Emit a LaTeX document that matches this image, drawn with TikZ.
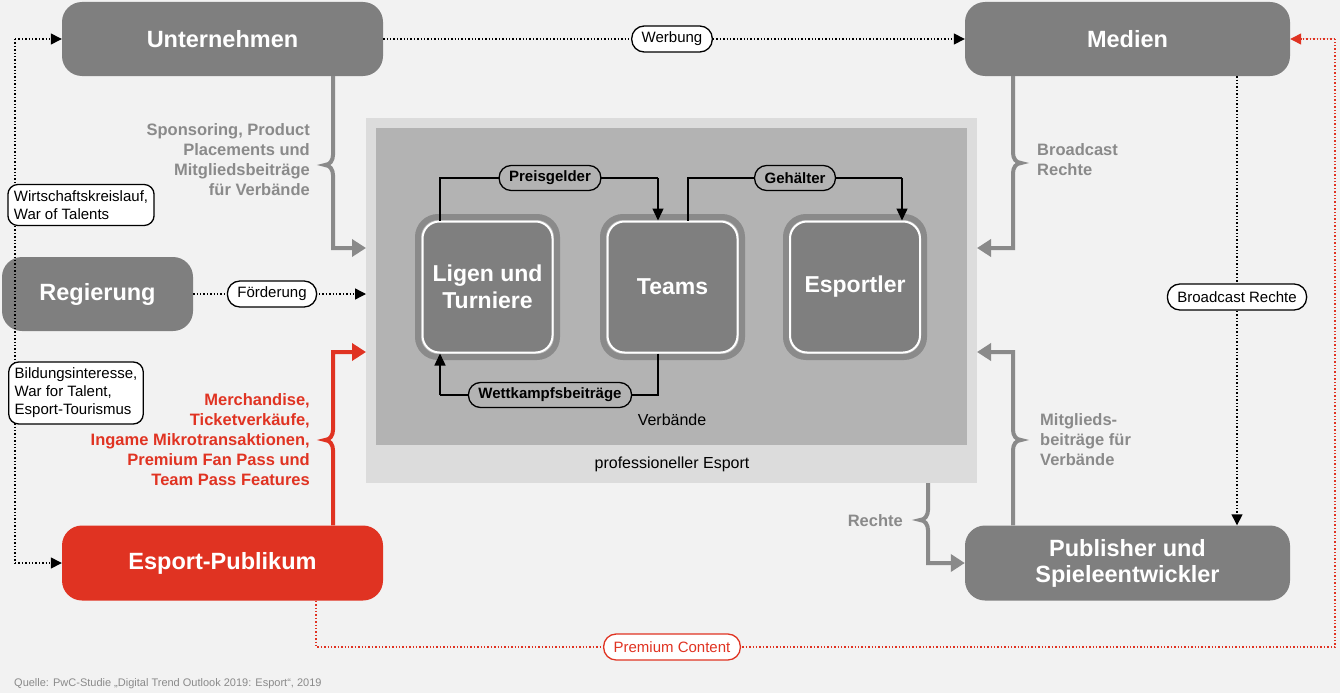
\documentclass[tikz,border=0pt]{standalone}
\usepackage{fontspec}
\setmainfont{Liberation Sans}
\usetikzlibrary{arrows.meta,positioning}
\definecolor{bg}{HTML}{F2F2F2}
\definecolor{boxgray}{HTML}{7F7F7F}
\definecolor{txtgray}{HTML}{8A8A8A}
\definecolor{pwcred}{HTML}{E03322}
\definecolor{outerbg}{HTML}{DCDCDC}
\definecolor{innerbg}{HTML}{B3B3B3}
\tikzset{
  actor/.style={rounded corners=20pt, fill=boxgray, text=white, font=\bfseries\fontsize{23.5}{26}\selectfont, align=center, inner sep=0pt},
  kern/.style={rounded corners=17pt, fill=boxgray, draw=white, line width=2pt,
    text=white, font=\bfseries\fontsize{23}{27}\selectfont, align=center, minimum width=130pt, minimum height=131pt, inner sep=0pt},
  pill/.style={rounded corners=12.5pt, draw=black, line width=1.3pt, fill=white, font=\fontsize{15}{18}\selectfont, inner xsep=10pt, minimum height=26pt},
  note/.style={rounded corners=10pt, draw=black, line width=1.3pt, fill=white, font=\fontsize{15}{18}\selectfont, align=left, inner sep=6pt},
  money/.style={rounded corners=12pt, draw=black, line width=1.3pt, fill=innerbg, font=\bfseries\fontsize{15}{18}\selectfont, inner xsep=10pt, minimum height=25pt},
  flow/.style={line width=4pt, draw=txtgray, -{Triangle[width=17pt,length=14pt]}},
  redflow/.style={flow, draw=pwcred},
  dots/.style={line width=1.4pt, dotted, -{Triangle[width=11pt,length=11pt]}},
  plain/.style={line width=1.4pt, -{Triangle[width=11pt,length=12pt]}},
  graytxt/.style={text=txtgray, font=\bfseries\fontsize{16.5}{20}\selectfont, inner sep=0pt}
}
\begin{document}
\begin{tikzpicture}[x=1pt,y=-1pt]
\fill[bg] (0,0) rectangle (1340,693);
\useasboundingbox (0,0) rectangle (1340,693);

% Bereiche
\fill[outerbg] (366,118) rectangle (977,483);
\fill[innerbg] (376,128) rectangle (967,445);
\node at (672,420) {\fontsize{16}{18}\selectfont Verbände};
\node at (672,464) {\fontsize{16}{18}\selectfont professioneller Esport};

% Akteure
\node[actor, minimum width=321pt, minimum height=74pt] (unt) at (222.5,39) {Unternehmen};
\node[actor, minimum width=325pt, minimum height=74pt] (med) at (1127.5,39) {Medien};
\node[actor, minimum width=191pt, minimum height=74pt] (reg) at (97.5,294) {Regierung};
\node[actor, fill=pwcred, minimum width=321pt, minimum height=75pt] (pub) at (222.5,563) {Esport-Publikum};
\node[actor, minimum width=325pt, minimum height=75pt] (dev) at (1127.5,563) {Publisher und\\Spieleentwickler};

% Kern
\draw[txtgray, line width=6pt, rounded corners=20pt] (418,217) rectangle (557,357);
\draw[txtgray, line width=6pt, rounded corners=20pt] (603,217) rectangle (742,357);
\draw[txtgray, line width=6pt, rounded corners=20pt] (786,217) rectangle (924,357);
\node[kern] (lig) at (487.5,287) {Ligen und\\Turniere};
\node[kern] (tea) at (672.5,287) {Teams};
\node[kern] (esp) at (855,287) {Esportler};

\coordinate (p1) at (440,178);
\coordinate (p2) at (658,178);
\coordinate (g1) at (688,178);
\coordinate (g2) at (902,178);
\coordinate (w1) at (658,395);
\coordinate (w2) at (440,395);
\draw[plain, -] (lig.north -| p1) -- (p1) -- (p2);
\draw[plain] (p2) -- (tea.north -| p2);
\draw[plain, -] (tea.north -| g1) -- (g1) -- (g2);
\draw[plain] (g2) -- (esp.north -| g2);
\draw[plain, -] (tea.south -| w1) -- (w1) -- (w2);
\draw[plain] (w2) -- (lig.south -| w2);
\node[money] (prg) at (550,178) {Preisgelder};
\node[money] (geh) at (795,178) {Gehälter};
\node[money] (wet) at (550,395) {Wettkampfsbeiträge};

% Geldflüsse
\coordinate (ein) at (366,248);
\coordinate (red) at (366,352);
\coordinate (aus) at (977,248);
\coordinate (mit) at (977,352);
\draw[flow] (unt.south -| 333,0) -- (333,155) to[out=-90,in=0] (325,165) to[out=0,in=90] (333,175) -- (333,248) -- (ein);
\draw[redflow] (pub.north -| 333,0) -- (333,450) to[out=90,in=0] (325,440) to[out=0,in=-90] (333,430) -- (333,352) -- (red);
\draw[flow] (med.south -| 1013,0) -- (1013,153) to[out=-90,in=180] (1021,163) to[out=180,in=90] (1013,173) -- (1013,248) -- (aus);
\draw[flow] (dev.north -| 1013,0) -- (1013,450) to[out=90,in=180] (1021,440) to[out=180,in=-90] (1013,430) -- (1013,352) -- (mit);
\draw[flow] (928,483) -- (928,510) to[out=-90,in=0] (920,520) to[out=0,in=90] (928,530) -- (928,563) -- (dev.west);

\node[graytxt, align=right, anchor=east] at (310,160) {Sponsoring, Product\\Placements und\\Mitgliedsbeiträge\\für Verbände};
\node[graytxt, align=right, anchor=east, text=pwcred] at (310,440) {Merchandise,\\Ticketverkäufe,\\Ingame Mikrotransaktionen,\\Premium Fan Pass und\\Team Pass Features};
\node[graytxt, align=left, anchor=west] at (1037,160) {Broadcast\\Rechte};
\node[graytxt, align=left, anchor=west] at (1040,440) {Mitglieds-\\beiträge für\\Verbände};
\node[graytxt, anchor=east] at (903,521) {Rechte};

% Weitere Beziehungen
\coordinate (lo) at (15,39);
\coordinate (lu) at (15,563);
\draw[dots] (unt.east) -- (med.west);
\draw[dots] (lo) -- (unt.west);
\draw[line width=1.4pt, dotted] (lo) -- (lu);
\draw[dots] (lu) -- (pub.west);
\draw[dots] (reg.east) -- (366,294);
\draw[dots] (med.south -| 1237,0) -- (dev.north -| 1237,0);
\coordinate (r1) at (316,647);
\coordinate (r2) at (1335,647);
\coordinate (r3) at (1335,39);
\draw[line width=1.4pt, dotted, draw=pwcred] (pub.south -| r1) -- (r1) -- (r2) -- (r3);
\draw[dots, draw=pwcred, fill=pwcred] (r3) -- (med.east);

\node[pill] (wer) at (672,39) {Werbung};
\node[pill] (foe) at (272,294) {Förderung};
\node[pill] (bro) at (1237,297) {Broadcast Rechte};
\node[pill, draw=pwcred, text=pwcred] (pre) at (672,647) {Premium Content};
\node[note] (wir) at (81,205) {Wirtschaftskreislauf,\\War of Talents};
\node[note] (bil) at (76,393) {Bildungsinteresse,\\War for Talent,\\Esport-Tourismus};

\node[anchor=west, text=txtgray, font=\fontsize{11}{13}\selectfont, inner sep=0pt] at (14,684) {Quelle: PwC-Studie „Digital Trend Outlook 2019: Esport“, 2019};
\end{tikzpicture}
\end{document}
